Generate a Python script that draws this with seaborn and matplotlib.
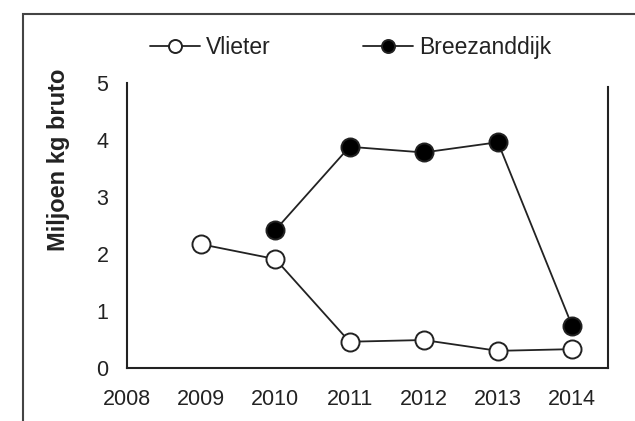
import numpy as np
import pandas as pd
import seaborn as sns
import matplotlib.pyplot as plt
from matplotlib.patches import Rectangle

# Data
years_vlieter = [2009, 2010, 2011, 2012, 2013, 2014]
vlieter = [2.17, 1.91, 0.46, 0.49, 0.30, 0.33]
years_breezand = [2010, 2011, 2012, 2013, 2014]
breezanddijk = [2.42, 3.88, 3.78, 3.96, 0.74]
x_ticks = [2008, 2009, 2010, 2011, 2012, 2013, 2014]
y_ticks = [0, 1, 2, 3, 4, 5]

sns.set_style("white")
plt.rcParams['font.family'] = ['Liberation Sans', 'DejaVu Sans']
ink = "#222222"

fig = plt.figure(figsize=(6.35, 4.21), dpi=100)
ax = fig.add_axes([0.2, 0.126, 0.757, 0.677])

df_v = pd.DataFrame({"jaar": years_vlieter, "kg": vlieter})
df_b = pd.DataFrame({"jaar": years_breezand, "kg": breezanddijk})

sns.lineplot(data=df_v, x="jaar", y="kg", ax=ax, color=ink, linewidth=1.3,
             marker="o", markersize=13, markerfacecolor="white",
             markeredgecolor=ink, markeredgewidth=1.4, label="Vlieter")
sns.lineplot(data=df_b, x="jaar", y="kg", ax=ax, color=ink, linewidth=1.3,
             marker="o", markersize=13, markerfacecolor="black",
             markeredgecolor=ink, markeredgewidth=1.4, label="Breezanddijk")

ax.set_xlim(2008, 2014.48)
ax.set_ylim(0, 5)
ax.set_xticks(x_ticks)
ax.set_yticks(y_ticks)
ax.tick_params(axis="both", direction="out", length=4.3, width=1.2, color=ink,
               labelsize=15.5, labelcolor=ink)
ax.tick_params(axis="x", pad=11)
ax.tick_params(axis="y", pad=9)
ax.set_xlabel("")
ax.set_ylabel("Miljoen kg bruto", fontsize=17, fontweight="bold", color=ink)
ax.yaxis.set_label_coords(-0.118, 0.73)

for side in ["left", "bottom", "right"]:
    ax.spines[side].set_color(ink)
    ax.spines[side].set_linewidth(1.5)
ax.spines["top"].set_visible(False)
ax.spines["right"].set_bounds(0, 4.93)

leg = ax.legend(ncol=2, frameon=False, loc="center", bbox_to_anchor=(0.552, 0.888),
                bbox_transform=fig.transFigure, fontsize=16.5, handlelength=2.2,
                handletextpad=0.26, columnspacing=4.0, markerscale=0.72)
for t in leg.get_texts():
    t.set_color(ink)

# outer frame around the figure (clipped at right and bottom)
fig.patches.append(Rectangle((0.036, -0.1), 1.2, 1.067, transform=fig.transFigure,
                             fill=False, edgecolor="#444444", linewidth=1.5))

fig.savefig("out.png", dpi=100)
